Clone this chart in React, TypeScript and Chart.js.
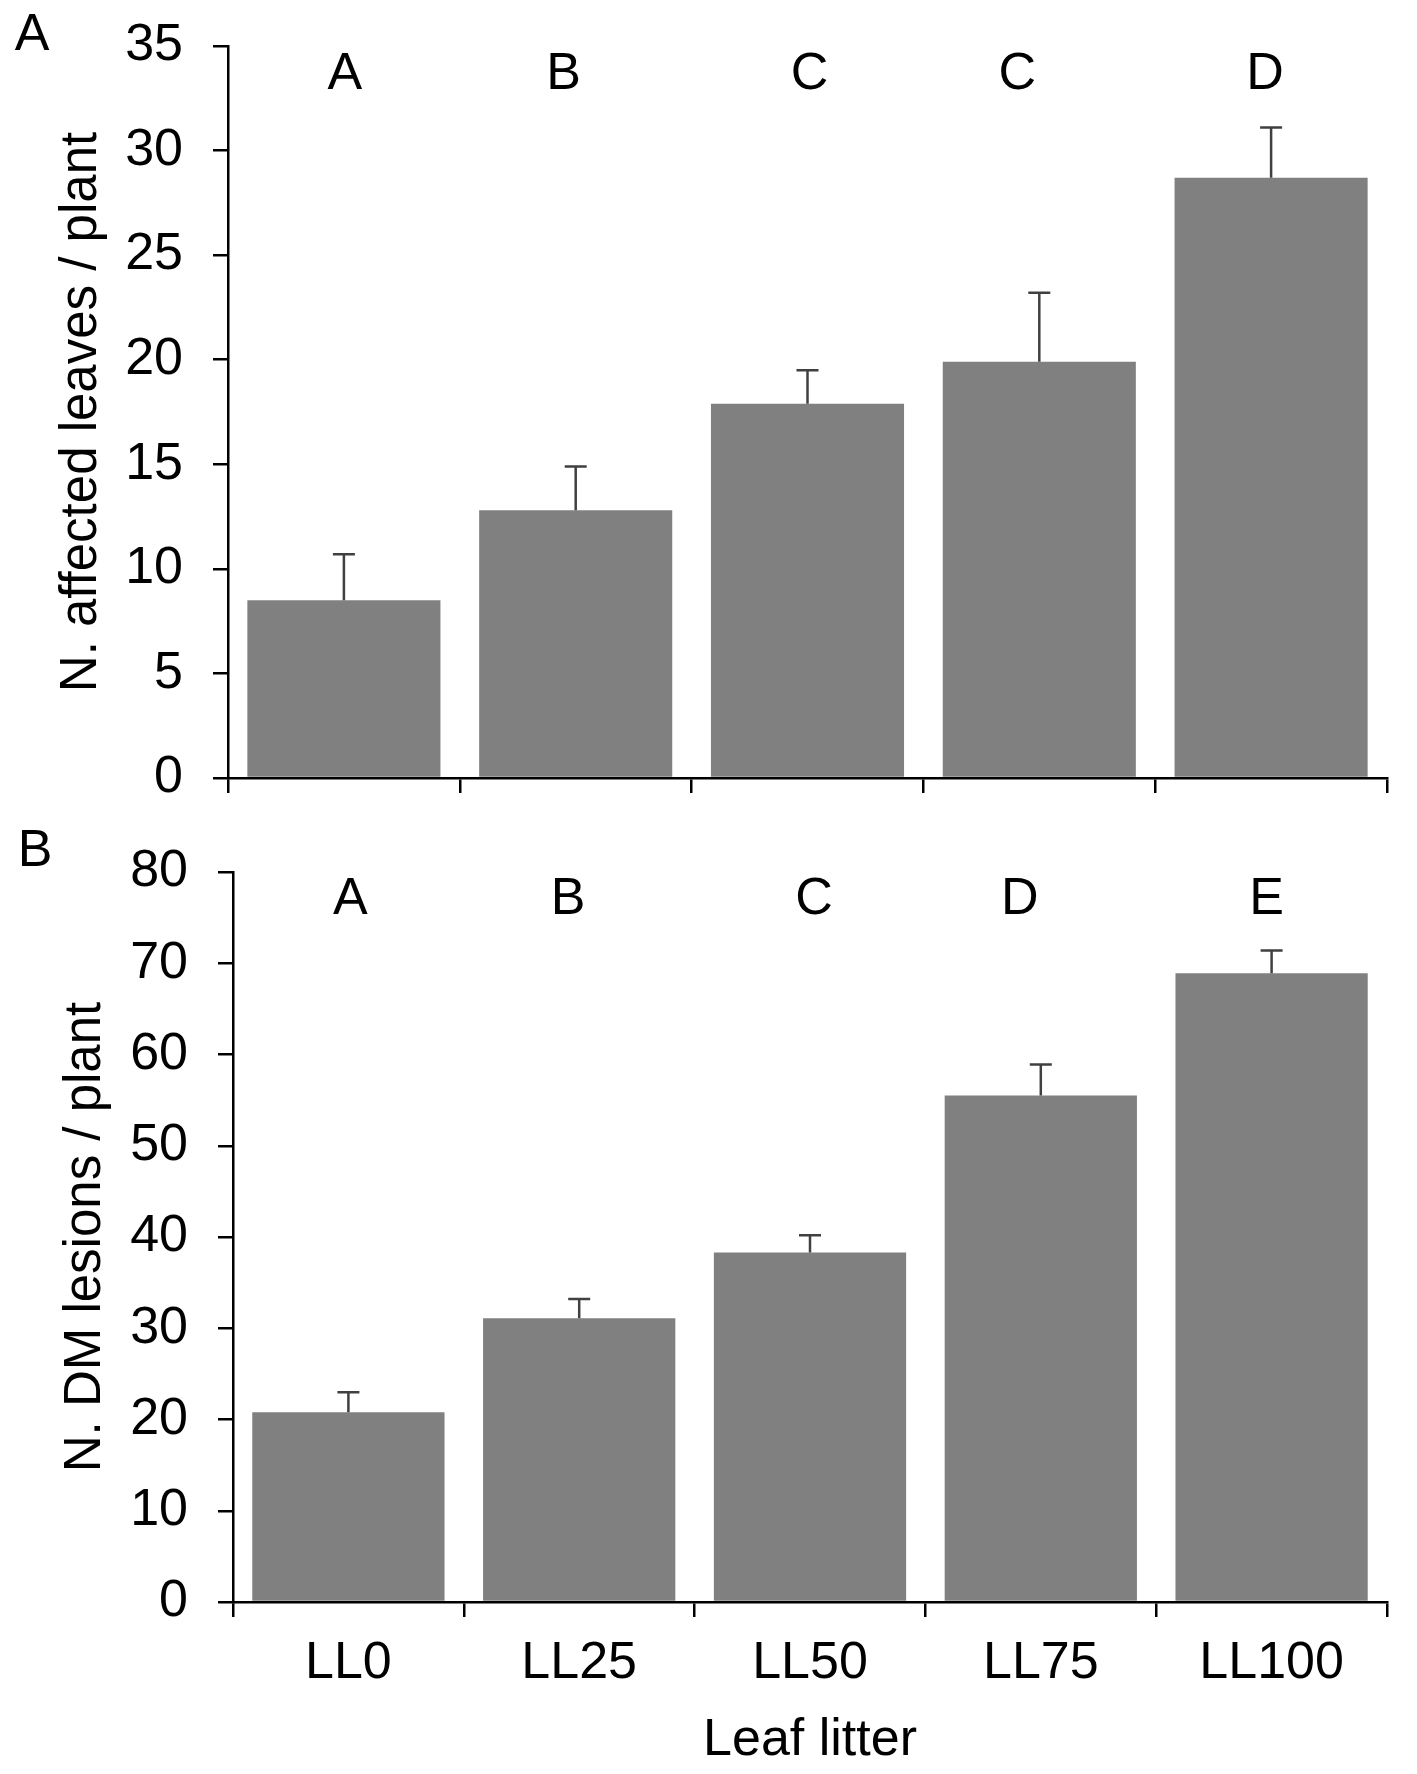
import React, { useEffect, useRef } from "react";
import { Chart, registerables } from "chart.js";

Chart.register(...registerables);

const categories = ["LL0", "LL25", "LL50", "LL75", "LL100"];

const affectedLeaves = [8.5, 12.8, 17.9, 19.9, 28.7];
const affectedLeavesErr = [2.2, 2.1, 1.6, 3.3, 2.4];
const lettersA = ["A", "B", "C", "C", "D"];

const dmLesions = [20.8, 31.1, 38.3, 55.5, 68.9];
const dmLesionsErr = [2.2, 2.1, 1.9, 3.4, 2.5];
const lettersB = ["A", "B", "C", "D", "E"];

const yTicksA = { min: 0, max: 35, step: 5 };
const yTicksB = { min: 0, max: 80, step: 10 };

const FONT = "'Liberation Sans', Arial, Helvetica, sans-serif";
const FS = 52;
const TITLE_FS = 51;

type PanelProps = {
  values: number[];
  errs: number[];
  letters: string[];
  letterShift: number[];
  letterY: number;
  yRange: { min: number; max: number; step: number };
  yTitle: string;
  yTitlePad: number;
  yAxisWidth: number;
  xAxisHeight: number;
  padTop: number;
  height: number;
  showX: boolean;
  panelLabel: string;
  panelLabelPos: [number, number];
};

function Panel(p: PanelProps) {
  const ref = useRef<HTMLCanvasElement | null>(null);
  useEffect(() => {
    if (!ref.current) return;
    const overlay = {
      id: "overlay",
      afterDatasetsDraw(chart: any) {
        const ctx = chart.ctx;
        const meta = chart.getDatasetMeta(0);
        const ys = chart.scales.y;
        ctx.save();
        ctx.strokeStyle = "#404040";
        ctx.lineWidth = 2.5;
        meta.data.forEach((bar: any, i: number) => {
          const x = bar.x;
          const top = ys.getPixelForValue(p.values[i]);
          const cap = ys.getPixelForValue(p.values[i] + p.errs[i]);
          ctx.beginPath();
          ctx.moveTo(x, top);
          ctx.lineTo(x, cap);
          ctx.moveTo(x - 11, cap);
          ctx.lineTo(x + 11, cap);
          ctx.stroke();
        });
        ctx.fillStyle = "#000";
        ctx.font = `${FS}px ${FONT}`;
        ctx.textAlign = "center";
        ctx.textBaseline = "middle";
        meta.data.forEach((bar: any, i: number) => {
          ctx.fillText(p.letters[i], bar.x + p.letterShift[i], p.letterY);
        });
        ctx.fillText(p.panelLabel, p.panelLabelPos[0], p.panelLabelPos[1]);
        ctx.restore();
      },
    };
    const chart = new Chart(ref.current, {
      type: "bar",
      data: {
        labels: categories,
        datasets: [
          {
            data: p.values,
            backgroundColor: "#808080",
            borderWidth: 0,
            barPercentage: 0.833,
            categoryPercentage: 1.0,
          },
        ],
      },
      options: {
        animation: false,
        responsive: false,
        devicePixelRatio: 1,
        layout: { padding: { top: p.padTop, right: 30, left: 0, bottom: 0 } },
        plugins: { legend: { display: false }, tooltip: { enabled: false } },
        scales: {
          x: {
            grid: {
              offset: true,
              drawOnChartArea: false,
              drawTicks: true,
              tickLength: 15,
              color: "#000",
              lineWidth: 2.5,
            },
            border: { display: true, color: "#000", width: 2.5 },
            ticks: {
              display: p.showX,
              color: "#000",
              padding: 15,
              font: { family: FONT, size: FS },
            },
            title: {
              display: p.showX,
              text: "Leaf litter",
              color: "#000",
              font: { family: FONT, size: FS },
              padding: { top: 0, bottom: 2 },
            },
            afterFit: (s: any) => {
              s.height = p.xAxisHeight;
              s.paddingLeft = 0;
              s.paddingRight = 0;
            },
          },
          y: {
            min: p.yRange.min,
            max: p.yRange.max,
            grid: {
              drawOnChartArea: false,
              drawTicks: true,
              tickLength: 15,
              color: "#000",
              lineWidth: 2.5,
            },
            border: { display: true, color: "#000", width: 2.5 },
            ticks: {
              stepSize: p.yRange.step,
              color: "#000",
              padding: 30,
              font: { family: FONT, size: FS },
            },
            title: {
              display: true,
              text: p.yTitle,
              color: "#000",
              font: { family: FONT, size: TITLE_FS },
              padding: { top: p.yTitlePad, bottom: 0 },
            },
            afterFit: (s: any) => {
              s.width = p.yAxisWidth;
              s.paddingTop = 0;
              s.paddingBottom = 0;
            },
          },
        },
      },
      plugins: [overlay],
    } as any);
    return () => chart.destroy();
  }, []);
  return (
    <canvas
      ref={ref}
      width={1417}
      height={p.height}
      style={{ display: "block", width: 1417, height: p.height }}
    />
  );
}

export default function App() {
  return (
    <div
      style={{
        position: "absolute",
        left: 0,
        top: 0,
        width: 1417,
        height: 1774,
        background: "#fff",
      }}
    >
      <Panel
        values={affectedLeaves}
        errs={affectedLeavesErr}
        letters={lettersA}
        letterShift={[1, -12, 2, -22, -6]}
        letterY={75}
        yRange={yTicksA}
        yTitle="N. affected leaves / plant"
        yTitlePad={51}
        yAxisWidth={228}
        xAxisHeight={52}
        padTop={46}
        height={830}
        showX={false}
        panelLabel="A"
        panelLabelPos={[32, 36]}
      />
      <Panel
        values={dmLesions}
        errs={dmLesionsErr}
        letters={lettersB}
        letterShift={[2, -11, 4, -21, -5]}
        letterY={70}
        yRange={yTicksB}
        yTitle="N. DM lesions / plant"
        yTitlePad={55}
        yAxisWidth={233}
        xAxisHeight={172}
        padTop={42}
        height={944}
        showX={true}
        panelLabel="B"
        panelLabelPos={[35, 22]}
      />
    </div>
  );
}
